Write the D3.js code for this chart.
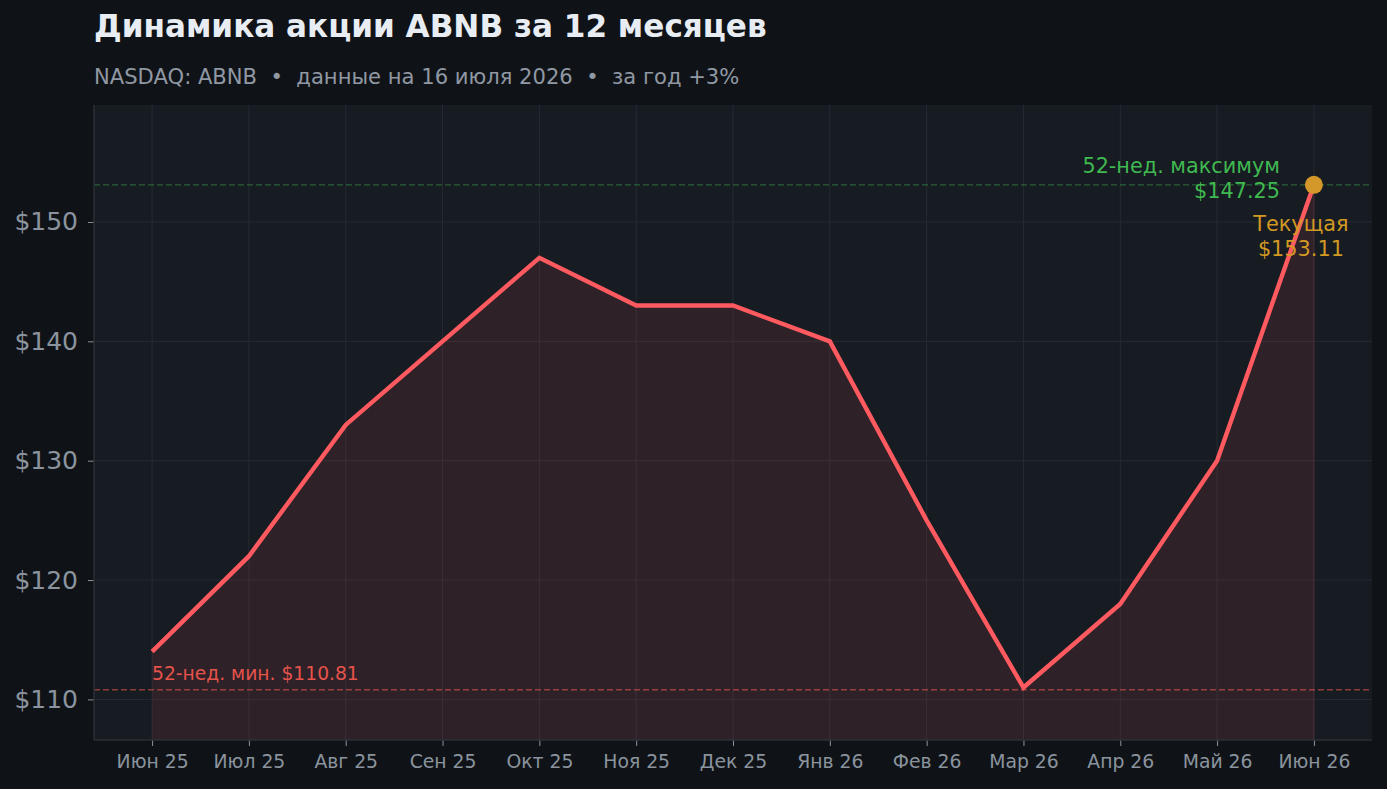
<!DOCTYPE html>
<html>
<head>
<meta charset="utf-8">
<script src="https://cdn.jsdelivr.net/npm/d3@7"></script>
<style>
  html, body { margin: 0; padding: 0; background: #0f1317; }
  svg { display: block; font-family: "DejaVu Sans", sans-serif; }
</style>
</head>
<body>
<svg id="chart" width="1387" height="789"></svg>
<script>
// data
let months = ['Июн 25','Июл 25','Авг 25','Сен 25','Окт 25','Ноя 25','Дек 25','Янв 26','Фев 26','Мар 26','Апр 26','Май 26','Июн 26'];
let prices = [114, 122, 133, 140, 147, 143, 143, 140, 125, 111, 118, 130, 153.11];
let yTicks = [110, 120, 130, 140, 150];
let lowValue = 110.81;
let highValue = 153.11;
let highLabel = '$147.25';
let currentLabel = '$153.11';

let svg = d3.select('#chart');
let W = 1387, H = 789;
let pLeft = 94, pRight = 1372, pTop = 105, pBottom = 740;

svg.append('rect').attr('width', W).attr('height', H).attr('fill', '#0f1317');

// titles
svg.append('text').attr('x', 94).attr('y', 37)
  .attr('font-size', 31.1).attr('font-weight', 'bold').attr('fill', '#e8edf3')
  .text('Динамика акции ABNB за 12 месяцев');
svg.append('text').attr('x', 94).attr('y', 83.5)
  .attr('font-size', 21.1).attr('fill', '#8f98a3')
  .style('white-space', 'pre')
  .text('NASDAQ: ABNB  •  данные на 16 июля 2026  •  за год +3%');

let x = d3.scaleLinear().domain([-0.6, months.length - 1 + 0.6]).range([pLeft, pRight]);
let y = d3.scaleLinear().domain([106.6, 159.8]).range([pBottom, pTop]);

svg.append('rect').attr('x', pLeft).attr('y', pTop)
  .attr('width', pRight - pLeft).attr('height', pBottom - pTop).attr('fill', '#171b22');

// grid
let grid = svg.append('g');
grid.selectAll('.vg').data(months).enter().append('line')
  .attr('x1', (d, i) => x(i)).attr('x2', (d, i) => x(i))
  .attr('y1', pTop).attr('y2', pBottom)
  .attr('stroke', '#262b34').attr('stroke-width', 1);
grid.selectAll('.hg').data(yTicks).enter().append('line')
  .attr('x1', pLeft).attr('x2', pRight)
  .attr('y1', d => y(d)).attr('y2', d => y(d))
  .attr('stroke', '#262b34').attr('stroke-width', 1);

// area + line
let area = d3.area().x((d, i) => x(i)).y0(pBottom).y1(d => y(d));
svg.append('path').datum(prices).attr('d', area)
  .attr('fill', '#ff5a5f').attr('fill-opacity', 0.1);
svg.append('line').attr('x1', x(prices.length - 1)).attr('x2', x(prices.length - 1))
  .attr('y1', y(highValue)).attr('y2', pBottom)
  .attr('stroke', '#ff5a5f').attr('stroke-opacity', 0.15);

// reference lines
svg.append('line').attr('x1', pLeft).attr('x2', pRight)
  .attr('y1', y(highValue)).attr('y2', y(highValue))
  .attr('stroke', '#3fb950').attr('stroke-opacity', 0.45)
  .attr('stroke-width', 1.3).attr('stroke-dasharray', '6,3');
svg.append('line').attr('x1', pLeft).attr('x2', pRight)
  .attr('y1', y(lowValue)).attr('y2', y(lowValue))
  .attr('stroke', '#e5534b').attr('stroke-opacity', 0.6)
  .attr('stroke-width', 1.3).attr('stroke-dasharray', '6,3');

let line = d3.line().x((d, i) => x(i)).y(d => y(d));
svg.append('path').datum(prices).attr('d', line)
  .attr('fill', 'none').attr('stroke', '#ff5a5f')
  .attr('stroke-width', 4.4).attr('stroke-linejoin', 'miter');

// axes
let yAxis = d3.axisLeft(y).tickValues(yTicks).tickFormat(d => '$' + d).tickSize(6).tickPadding(10);
let yg = svg.append('g').attr('transform', `translate(${pLeft},0)`).call(yAxis);
yg.select('.domain').remove();
yg.selectAll('line').attr('stroke', '#8b939e');
yg.selectAll('text').attr('fill', '#8b939e').attr('font-size', 25).attr('font-family', '"DejaVu Sans"');

let xAxis = d3.axisBottom(x).tickValues(d3.range(months.length)).tickFormat(i => months[i]).tickSize(6).tickPadding(9);
let xg = svg.append('g').attr('transform', `translate(0,${pBottom})`).call(xAxis);
xg.select('.domain').remove();
xg.selectAll('line').attr('stroke', '#8b939e');
xg.selectAll('text').attr('fill', '#8b939e').attr('font-size', 18.8).attr('font-family', '"DejaVu Sans"');

// spines
svg.append('line').attr('x1', pLeft).attr('x2', pLeft).attr('y1', pTop).attr('y2', pBottom)
  .attr('stroke', '#2b3039').attr('stroke-width', 1.5);
svg.append('line').attr('x1', pLeft).attr('x2', pRight).attr('y1', pBottom).attr('y2', pBottom)
  .attr('stroke', '#2b3039').attr('stroke-width', 1.5);

// current point
let last = prices.length - 1;
svg.append('circle').attr('cx', x(last)).attr('cy', y(prices[last])).attr('r', 9)
  .attr('fill', '#d4982a');

// annotations
svg.append('text').attr('x', 1280).attr('y', y(highValue) - 12).attr('text-anchor', 'end')
  .attr('font-size', 20.8).attr('fill', '#3fb950').text('52-нед. максимум');
svg.append('text').attr('x', 1280).attr('y', y(highValue) + 13).attr('text-anchor', 'end')
  .attr('font-size', 20.8).attr('fill', '#3fb950').text(highLabel);
svg.append('text').attr('x', x(last) - 13).attr('y', 231).attr('text-anchor', 'middle')
  .attr('font-size', 20.8).attr('fill', '#d29922').text('Текущая');
svg.append('text').attr('x', x(last) - 13).attr('y', 256).attr('text-anchor', 'middle')
  .attr('font-size', 20.8).attr('fill', '#d29922').text(currentLabel);
svg.append('text').attr('x', x(0)).attr('y', y(lowValue) - 10)
  .attr('font-size', 18.7).attr('fill', '#e5534b').text('52-нед. мин. $110.81');
</script>
</body>
</html>
